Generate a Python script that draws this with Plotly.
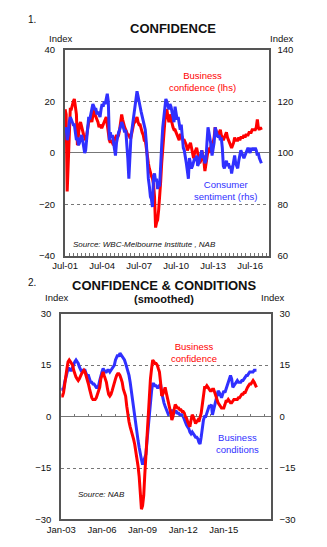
import plotly.graph_objects as go
import pandas as pd

# ---------------- Panel 1 data (monthly, Jul-2001 .. Jun-2017) ----------------
p1_start = "2001-07-01"
business_confidence = [
    17, 15, -15, -2, 12, 17,                          # 2001 H2
    17, 19, 20, 21, 18, 15, 3, 8, 11, 12, 10, 8,      # 2002
    7, 6, 5, 7, 10, 12, 13, 14, 12, 15, 17, 15,       # 2003
    14, 13, 12, 10, 11, 10, 10, 11, 12, 13, 14, 11,   # 2004
    7, 5, 4, 5, 4, 3, 5, 6, 7, 6, 7, 9,               # 2005
    12, 15, 13, 11, 10, 9, 8, 7, 7, 6, 6, 8,          # 2006
    10, 12, 12, 13, 14, 12, 11, 11, 9, 8, 7, 5,       # 2007
    5, 1, -2, -4, -6, -8, -9, -10, -12, -17, -29, -27,  # 2008
    -26, -22, -14, -11, -4, 3, 7, 12, 16, 17, 14, 12,   # 2009
    15, 13, 11, 10, 9, 9, 8, 7, 6, 5, 7, 7,           # 2010
    6, 5, 5, 4, 3, 1, 2, 3, 4, 2, 0, -2,              # 2011
    0, 1, 2, 0, -2, -4, -3, 1, -1, -3, -7, -4,        # 2012
    -1, 1, 2, 0, 3, 4, 4, 6, 10, 8, 7, 7,             # 2013
    8, 9, 7, 6, 5, 6, 7, 8, 6, 5, 4, 3,               # 2014
    2, 3, 4, 6, 5, 5, 5, 6, 5, 6, 6, 6,               # 2015
    7, 6, 7, 7, 7, 8, 8, 8, 9, 9, 9, 9,               # 2016
    10, 13, 10, 9, 10, 9,                             # 2017 H1
]
consumer_sentiment = [
    108, 110, 105, 107, 112, 114,                          # 2001 H2
    113, 112, 111, 111, 108, 105, 106, 103, 104, 106, 107, 105,  # 2002
    103, 100, 101, 106, 110, 114, 113, 115, 117, 119, 118, 117,  # 2003
    117, 115, 116, 115, 114, 117, 119, 118, 120, 119, 121, 123,  # 2004
    120, 105, 108, 106, 107, 104, 102, 99, 104, 107, 108, 109,   # 2005
    111, 112, 111, 109, 108, 109, 105, 98, 90, 101, 106, 109,    # 2006
    112, 114, 117, 121, 124, 122, 119, 118, 116, 114, 112, 110,  # 2007
    109, 104, 96, 90, 87, 83, 82, 79, 91, 92, 89, 90,            # 2008
    86, 88, 87, 98, 103, 110, 114, 118, 121, 120, 118, 117,      # 2009
    119, 118, 116, 114, 112, 118, 115, 113, 114, 111, 109, 111,  # 2010
    106, 102, 101, 99, 96, 93, 90, 98, 96, 94, 95, 97,           # 2011
    98, 97, 99, 95, 96, 98, 100, 101, 98, 99, 96, 97,            # 2012
    104, 110, 108, 106, 103, 99, 102, 104, 110, 108, 107, 106,   # 2013
    107, 105, 106, 102, 95, 94, 96, 97, 95, 96, 94, 95,          # 2014
    92, 94, 97, 99, 96, 95, 94, 97, 99, 101, 100, 99,            # 2015
    98, 99, 100, 101, 102, 101, 100, 102, 101, 102, 101, 102,    # 2016
    101, 99, 100, 98, 97, 96,                                    # 2017 H1
]

# ---------------- Panel 2 data (smoothed, monthly, Jan-2003 .. Jun-2017) ----------------
p2_start = "2003-01-01"
conf_smoothed = [
    6, 6, 7, 10, 12, 14, 16, 16.5, 16, 15.5, 15, 13.5,               # 2003
    12, 11.5, 11, 10.5, 11, 12, 12.5, 13, 13.5, 13, 12, 10.5,        # 2004
    9.5, 8, 6.5, 5.5, 5, 5, 5, 5.5, 6.5, 7.5, 8.5, 11,               # 2005
    12, 13, 12, 11, 10, 8, 6.5, 6, 6.5, 7.5, 9, 10,                  # 2006
    11, 12, 12.5, 12.5, 12, 11, 10, 8, 7, 6, 3, 0,                   # 2007
    -1.5, -3, -4, -5, -6.5, -8, -10, -12, -14.5, -17.5, -23, -27,    # 2008
    -26, -23, -17, -11, -5, 1, 7, 11, 14, 16.5, 16, 15.5,            # 2009
    15.5, 15, 14, 13, 10, 6, 6.5, 8, 8.5, 7, 5.5, 5,                 # 2010
    3, 1, -1, 0, 2, 3.5, 3, 2.5, 2.5, 2, 2, 1.5,                     # 2011
    1.5, 1, 0, -0.5, -1.5, -2.5, -3, -1, 0.5, 0, -1.5, -2,           # 2012
    -1.5, -1, -1.5, 0, 1, 3.5, 7, 8.5, 8.5, 9, 8.5, 8,               # 2013
    7.5, 7.5, 8, 8, 7, 5.5, 5, 4, 3.5, 3, 2.5, 2.5,                  # 2014
    2.5, 3.5, 4.5, 4.5, 5, 4.5, 4, 4, 4.5, 5, 5, 5,                  # 2015
    5, 5.5, 5.5, 6, 6.5, 6.5, 7, 7, 8, 8.5, 9, 9.5,                  # 2016
    9.5, 10, 10.5, 10, 9, 8.5,                                       # 2017 H1
]
cond_smoothed = [
    8, 8, 8, 10, 11.5, 13, 14, 14, 13.5, 13.5, 14.5, 15.5,           # 2003
    16, 16.5, 16, 15.5, 14.5, 13.5, 13, 13.5, 13.5, 13.5, 12.5, 12,  # 2004
    12, 11, 10, 10, 9.5, 9.5, 9, 8.5, 8.5, 9, 10.5, 12,              # 2005
    13, 14, 13.5, 13, 13, 13.5, 13.5, 13, 13.5, 14, 14.5, 15,        # 2006
    16.5, 17.5, 18, 17.5, 18.5, 18, 17.5, 17, 16.5, 15.5, 14.5, 13,  # 2007
    12, 10, 7.5, 4.5, 2, -0.5, -3, -5, -7, -9, -11.5, -12.5,         # 2008
    -14, -13, -12.5, -11, -7, -3, 1, 5, 7.5, 9.5, 9.5, 9,            # 2009
    9, 8.5, 8.5, 9, 9.5, 7, 5, 4, 3, 2, 1, 0.5,                      # 2010
    0.5, 1.5, 2, 1, 1, 1.5, 1.5, 1, 1, 0.5, 0.5, 0.5,                # 2011
    0, -1, -2, -2.5, -3, -3.5, -4.5, -5, -4.5, -5, -5.5, -6,         # 2012
    -6, -6.5, -7.5, -8, -6, -3, -1, 0, 0, 1, 2, 3,                   # 2013
    3, 3.5, 0.5, 2, 4, 5, 6.5, 7.5, 7, 6, 5.5, 6.5,                  # 2014
    7.5, 7, 8, 9.5, 10.5, 11.5, 12, 11, 8.5, 9, 9.5, 10,             # 2015
    10.5, 10, 10, 10, 10.5, 10.5, 11, 11.5, 12, 12, 12.5, 13,        # 2016
    13, 13, 13, 13.5, 13.5, 13.5,                                    # 2017 H1
]

p1_dates = pd.date_range(p1_start, periods=len(business_confidence), freq="MS")
p2_dates = pd.date_range(p2_start, periods=len(conf_smoothed), freq="MS")

p1_ticks = ["2001-07-01", "2004-07-01", "2007-07-01", "2010-07-01", "2013-07-01", "2016-07-01"]
p2_ticks = ["2003-01-01", "2006-01-01", "2009-01-01", "2012-01-01", "2015-01-01"]

RED = "#FF0000"
BLUE = "#3030FF"
FONT = "Liberation Sans, Arial, sans-serif"
W, H = 327, 547


def px(x):
    return x / W


def py(y):
    return 1 - y / H


fig = go.Figure()

fig.add_trace(go.Scatter(x=p1_dates, y=consumer_sentiment, xaxis="x", yaxis="y2",
                         mode="lines", line=dict(color=BLUE, width=3), showlegend=False))
fig.add_trace(go.Scatter(x=p1_dates, y=business_confidence, xaxis="x", yaxis="y",
                         mode="lines", line=dict(color=RED, width=3), showlegend=False))
fig.add_trace(go.Scatter(x=p2_dates, y=cond_smoothed, xaxis="x2", yaxis="y3",
                         mode="lines", line=dict(color=BLUE, width=3), showlegend=False))
fig.add_trace(go.Scatter(x=p2_dates, y=conf_smoothed, xaxis="x2", yaxis="y3",
                         mode="lines", line=dict(color=RED, width=3), showlegend=False))
# helper trace so the zero-line tick axis of panel 2 is drawn
fig.add_trace(go.Scatter(x=[p2_dates[0]], y=[None], xaxis="x3", yaxis="y4",
                         mode="lines", showlegend=False, hoverinfo="skip"))

tickfont = dict(family=FONT, size=9.5, color="#111")
frame = dict(showline=True, mirror=True, linecolor="#555", linewidth=1.5)

d1x = [px(53), px(266)]
d1y = [py(255), py(45)]
d2x = [px(49), px(268)]
d2y = [py(524), py(314)]

fig.update_layout(
    width=W, height=H,
    margin=dict(l=0, r=0, t=0, b=0),
    paper_bgcolor="white", plot_bgcolor="white",
    font=dict(family=FONT, color="#111"),
    xaxis=dict(domain=d1x, anchor="y", type="date",
               range=["2001-06-20", "2018-01-01"],
               tickvals=p1_ticks, tickformat="%b-%y", tickfont=tickfont,
               ticks="inside", ticklen=0, showgrid=False, zeroline=False,
               minor=dict(ticks="inside", ticklen=3, dtick="M4", tick0="2001-07-01",
                          tickcolor="#777", showgrid=False),
               **frame),
    yaxis=dict(domain=d1y, anchor="x", range=[-40, 40], tickvals=[-40, -20, 0, 20, 40],
               tickfont=tickfont, ticks="outside", ticklen=6, tickcolor="rgba(0,0,0,0)",
               showgrid=True, gridcolor="#777", griddash="dot", gridwidth=1,
               zeroline=True, zerolinecolor="#777", zerolinewidth=1.2,
               **frame),
    yaxis2=dict(domain=d1y, anchor="x", overlaying="y", side="right", range=[60, 140],
                tickvals=[60, 80, 100, 120, 140], tickfont=tickfont,
                ticks="outside", ticklen=6, tickcolor="rgba(0,0,0,0)",
                showgrid=False, zeroline=False, showline=False),
    xaxis2=dict(domain=d2x, anchor="y3", type="date",
                range=["2002-12-20", "2018-06-15"],
                tickvals=p2_ticks, tickformat="%b-%y", tickfont=tickfont,
                ticks="", showgrid=False, zeroline=False, **frame),
    xaxis3=dict(domain=d2x, anchor="free", position=py(419), overlaying="x2", type="date",
                range=["2002-12-20", "2018-06-15"], showticklabels=False,
                ticks="inside", ticklen=3, tickcolor="#777", dtick="M12", tick0="2003-01-01",
                showgrid=False, zeroline=False, showline=False),
    yaxis3=dict(domain=d2y, anchor="x2", range=[-30, 30], tickvals=[-30, -15, 0, 15, 30],
                tickfont=tickfont, ticks="outside", ticklen=6, tickcolor="rgba(0,0,0,0)",
                showgrid=True, gridcolor="#777", griddash="dot", gridwidth=1,
                zeroline=True, zerolinecolor="#777", zerolinewidth=1.2,
                **frame),
    yaxis4=dict(domain=d2y, anchor="x2", overlaying="y3", side="right", range=[-30, 30],
                tickvals=[-30, -15, 0, 15, 30], tickfont=tickfont,
                ticks="outside", ticklen=6, tickcolor="rgba(0,0,0,0)",
                showgrid=False, zeroline=False, showline=False),
)


def note(x, y, text, size=9.5, color="#111", xanchor="center", bold=False, italic=False):
    t = text
    if bold:
        t = "<b>" + t + "</b>"
    if italic:
        t = "<i>" + t + "</i>"
    fig.add_annotation(x=px(x), y=py(y), xref="paper", yref="paper", text=t,
                       showarrow=False, xanchor=xanchor, yanchor="middle",
                       font=dict(family=FONT, size=size, color=color), align="center")


# Panel 1 texts
note(13, 14, "1.", size=10, xanchor="left")
note(166, 23, "CONFIDENCE", size=13, bold=True)
note(49, 33, "Index", size=9.5)
note(279, 33, "Index", size=9.5)
note(197, 77, "Business<br>confidence (lhs)", size=9.5, color=RED)
note(221, 188, "Consumer<br>sentiment (rhs)", size=9.5, color=BLUE)
note(60, 243, "Source: WBC-Melbourne Institute , NAB", size=8, xanchor="left", italic=True)

# Panel 2 texts
note(13, 282, "2.", size=10, xanchor="left")
note(157, 285, "CONFIDENCE & CONDITIONS", size=13, bold=True)
note(157, 299, "(smoothed)", size=11, bold=True)
note(44, 297, "Index", size=9.5)
note(270, 297, "Index", size=9.5)
note(188, 354, "Business<br>confidence", size=9.5, color=RED)
note(234, 446, "Business<br>conditions", size=9.5, color=BLUE)
note(65, 499, "Source: NAB", size=8, xanchor="left", italic=True)

fig.write_html("out.html")
